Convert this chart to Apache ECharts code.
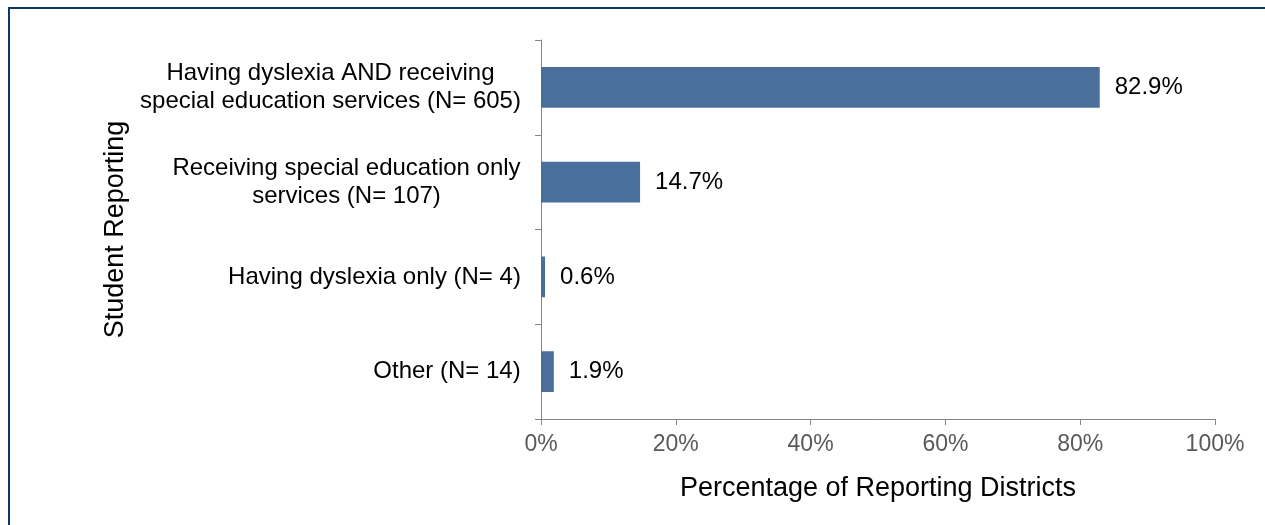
<!DOCTYPE html>
<html>
<head>
<meta charset="utf-8">
<script src="https://cdn.jsdelivr.net/npm/echarts@6/dist/echarts.min.js"></script>
<style>
html,body{margin:0;padding:0;background:#fff;}
#frame{position:absolute;left:8px;top:7px;width:1257px;height:518px;border-top:2px solid #0b3a68;border-left:2px solid #0b3a68;box-sizing:border-box;}
#chart{position:absolute;left:0;top:0;width:1265px;height:525px;}
</style>
</head>
<body>
<div id="frame"></div>
<div id="chart"></div>
<script>
const categories = [
  "Having dyslexia AND receiving\nspecial education services (N= 605)",
  "Receiving special education only\nservices (N= 107)",
  "Having dyslexia only (N= 4)",
  "Other (N= 14)"
];
const values = [82.9, 14.7, 0.6, 1.9];
const xTicks = [0, 20, 40, 60, 80, 100];
const xTitle = "Percentage of Reporting Districts";
const yTitle = "Student Reporting";

const font = "'Liberation Sans', Arial, sans-serif";
const catFontSize = 24;

// measure line widths so multi-line labels are centred within a right-aligned block
const ctx = document.createElement('canvas').getContext('2d');
ctx.font = catFontSize + 'px ' + font;
function blockWidth(label) {
  return Math.ceil(Math.max.apply(null, label.split('\n').map(l => ctx.measureText(l).width)));
}
const rich = {};
categories.forEach((c, i) => {
  rich['c' + i] = {width: blockWidth(c), align: 'center', fontFamily: font, fontSize: catFontSize, color: '#000', lineHeight: 28};
});

const chart = echarts.init(document.getElementById('chart'), null, {renderer: 'canvas'});
chart.setOption({
  animation: false,
  backgroundColor: 'transparent',
  grid: {left: 541, right: 50, top: 40, bottom: 106, containLabel: false},
  xAxis: {
    type: 'value', min: xTicks[0], max: xTicks[xTicks.length - 1], interval: 20,
    name: xTitle, nameLocation: 'middle', nameGap: 56,
    nameTextStyle: {fontFamily: font, fontSize: 27, color: '#000'},
    axisLine: {show: true, lineStyle: {color: '#868686', width: 1}},
    axisTick: {show: true, length: 6, lineStyle: {color: '#868686'}},
    splitLine: {show: false},
    axisLabel: {formatter: '{value}%', fontFamily: font, fontSize: 23, color: '#595959', margin: 14}
  },
  yAxis: {
    type: 'category', data: categories, inverse: true,
    name: yTitle, nameLocation: 'middle', nameGap: 408, nameRotate: 90,
    nameTextStyle: {fontFamily: font, fontSize: 27, color: '#000'},
    axisLine: {show: true, lineStyle: {color: '#868686', width: 1}},
    axisTick: {show: true, length: 6, lineStyle: {color: '#868686'}},
    axisLabel: {
      fontFamily: font, fontSize: catFontSize, color: '#000', margin: 20, lineHeight: 28, align: 'right',
      formatter: function (val) {
        const i = categories.indexOf(val);
        return val.split('\n').map(l => '{c' + i + '|' + l + '}').join('\n');
      },
      rich: rich
    }
  },
  series: [{
    type: 'bar', data: values, barWidth: '43%',
    itemStyle: {color: '#4a6f9c'},
    label: {show: true, position: 'right', distance: 15, formatter: '{c}%',
      fontFamily: font, fontSize: 24, color: '#000'}
  }]
});
</script>
</body>
</html>
